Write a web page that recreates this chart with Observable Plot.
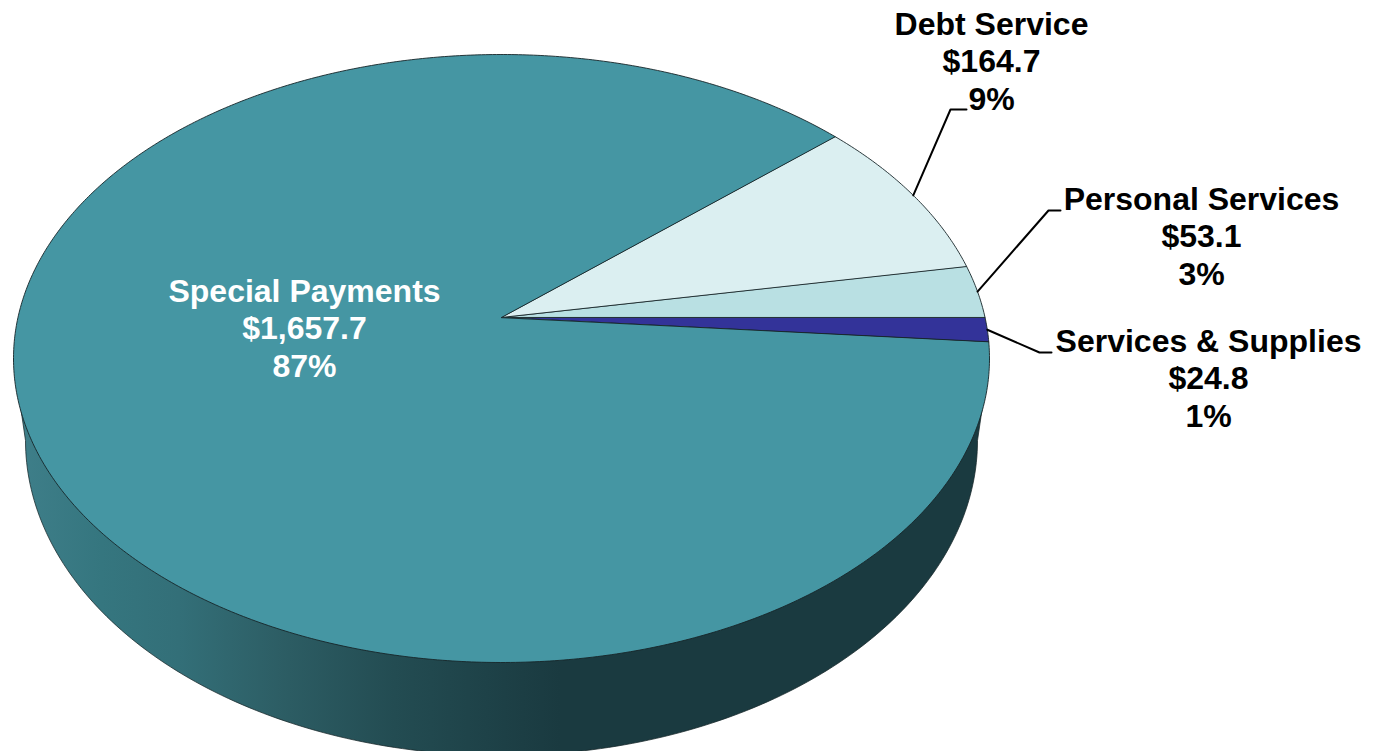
<!DOCTYPE html>
<html>
<head>
<meta charset="utf-8">
<style>html,body{margin:0;padding:0;background:#fff;overflow:hidden}svg{display:block}</style>
<script src="https://cdn.jsdelivr.net/npm/d3@7"></script>
<script src="https://cdn.jsdelivr.net/npm/@observablehq/plot@0.6"></script>
</head>
<body>
<script>
// Data, in the order the slices run anticlockwise from the first slice
const names = ["Services & Supplies", "Personal Services", "Debt Service", "Special Payments"];
const amounts = [24.8, 53.1, 164.7, 1657.7];
const sliceColors = ["#333399", "#b9e0e3", "#dbeff1", "#4596a3"];
const labelX = [1208, 1201, 991, 304];
const labelY = [377, 235, 60, 327];
const labelColors = ["#000", "#000", "#000", "#fff"];
const leaderElbowX = [1039, 1048, 950];
const leaderElbowY = [352, 210, 109];
const leaderEndX = [1051, 1060, 966];

// Pie geometry (perspective view of a disk)
const top_ = {cx: 501, cy: 358, rx: 488, ry: 304};
const low = {cx: 501, cy: 440, rx: 476, ry: 315};
const boost = 0.135;
const startDeg = -(amounts[0] / d3.sum(amounts)) * 360;

const total = d3.sum(amounts);
function project(deg) {
  const t = deg * Math.PI / 180, u = Math.cos(t), v = Math.sin(t);
  const d = 1 + boost * v;
  return {
    x: top_.cx + top_.rx * u * Math.sqrt(1 - boost * boost) / d,
    y: top_.cy - top_.ry * (v + boost) / d
  };
}
const apex = {x: top_.cx, y: top_.cy - top_.ry * boost};

let running = startDeg;
const arcs = amounts.map((a, i) => {
  const from = running, to = running + a / total * 360;
  running = to;
  return {name: names[i], from, to, mid: (from + to) / 2};
});

const slicePoints = arcs.flatMap(s => {
  const n = Math.max(4, Math.ceil((s.to - s.from) * 2));
  const pts = [{name: s.name, ...apex}];
  for (let k = 0; k <= n; k++) pts.push({name: s.name, ...project(s.from + (s.to - s.from) * k / n)});
  return pts;
});

// Side wall: the lower half of the lower rim, joined to the widest points of the top
const sidePoints = [{x: top_.cx - top_.rx, y: top_.cy}];
for (let d = 180; d <= 360; d += 1) {
  const t = d * Math.PI / 180;
  sidePoints.push({x: low.cx + low.rx * Math.cos(t), y: low.cy - low.ry * Math.sin(t)});
}
sidePoints.push({x: top_.cx + top_.rx, y: top_.cy});

const leaders = arcs.slice(0, 3).flatMap((s, i) => [
  {id: i, ...project(s.mid)},
  {id: i, x: leaderElbowX[i], y: leaderElbowY[i]},
  {id: i, x: leaderEndX[i], y: leaderElbowY[i]}
]);

const labels = names.map((n, i) => ({
  text: `${n}\n${d3.format("$,.1f")(amounts[i])}\n${Math.round(amounts[i] / total * 100)}%`,
  x: labelX[i], y: labelY[i], color: labelColors[i]
}));

const chart = Plot.plot({
  width: 1379, height: 751,
  margin: 0,
  x: {domain: [0, 1379], range: [0, 1379], axis: null},
  y: {domain: [0, 751], range: [0, 751], axis: null},
  color: {domain: names, range: sliceColors},
  style: {background: "#fff"},
  marks: [
    Plot.line(sidePoints, {x: "x", y: "y", curve: "linear-closed", fill: "url(#sideShade)", stroke: "#162528", strokeWidth: 0.75}),
    Plot.line(slicePoints, {x: "x", y: "y", z: "name", curve: "linear-closed", fill: "name", stroke: "#162528", strokeWidth: 0.9, strokeLinejoin: "round"}),
    Plot.line(leaders, {x: "x", y: "y", z: "id", stroke: "#000", strokeWidth: 2, curve: "linear"}),
    Plot.text(labels, {x: "x", y: "y", text: "text", fill: "color", fontFamily: "Liberation Sans, Arial, sans-serif", fontWeight: "bold", fontSize: 32, lineHeight: 1.17, lineAnchor: "middle"})
  ]
});

const defs = d3.select(chart).insert("defs", ":first-child");
const grad = defs.append("linearGradient").attr("id", "sideShade")
  .attr("gradientUnits", "userSpaceOnUse").attr("x1", 13).attr("x2", 989).attr("y1", 0).attr("y2", 0);
[[0, "#3f7f8a"], [0.09, "#35767f"], [0.17, "#336f78"], [0.27, "#2d5e65"], [0.39, "#234c52"], [0.56, "#1a3a40"], [1, "#1a3a40"]]
  .forEach(([o, c]) => grad.append("stop").attr("offset", o).attr("stop-color", c));

document.body.appendChild(chart);
</script>
</body>
</html>
